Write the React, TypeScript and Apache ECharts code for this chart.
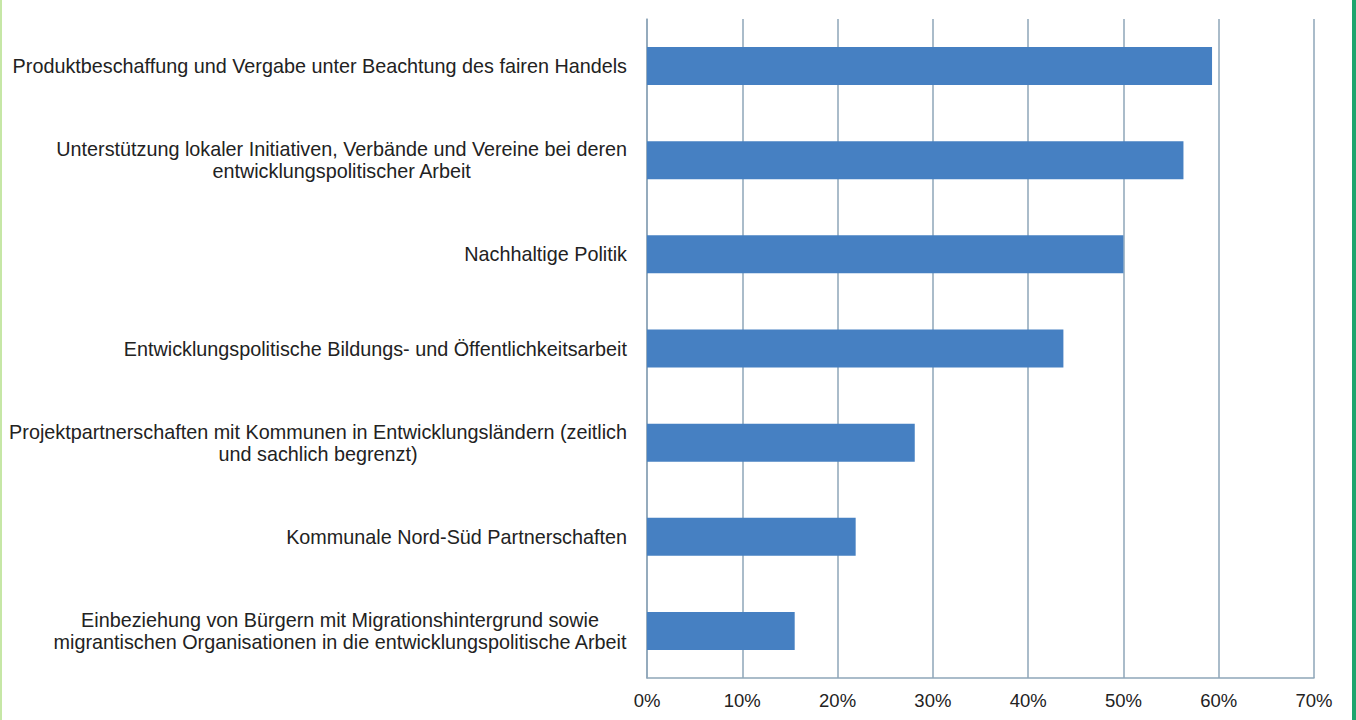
import React, { useEffect, useRef } from "react";
import * as echarts from "echarts";

const categories: string[][] = [
  ["Produktbeschaffung und Vergabe unter Beachtung des fairen Handels"],
  ["Unterstützung lokaler Initiativen, Verbände und Vereine bei deren", "entwicklungspolitischer Arbeit"],
  ["Nachhaltige Politik"],
  ["Entwicklungspolitische Bildungs- und Öffentlichkeitsarbeit"],
  ["Projektpartnerschaften mit Kommunen in Entwicklungsländern (zeitlich", "und sachlich begrenzt)"],
  ["Kommunale Nord-Süd Partnerschaften"],
  ["Einbeziehung von Bürgern mit Migrationshintergrund sowie", "migrantischen Organisationen in die entwicklungspolitische Arbeit"],
];
const values: number[] = [59.3, 56.3, 50.0, 43.7, 28.1, 21.9, 15.5];
const xTicks = { min: 0, max: 70, interval: 10 };

export default function App() {
  const ref = useRef<HTMLDivElement>(null);
  useEffect(() => {
    if (!ref.current) return;
    const chart = echarts.init(ref.current, null, { renderer: "svg" });
    const gridColor = "#8ea6b8";
    const font = "Liberation Sans, Arial, sans-serif";
    chart.setOption({
      animation: false,
      backgroundColor: "#ffffff",
      textStyle: { fontFamily: font },
      grid: { left: 647, right: 42, top: 19, bottom: 42 },
      xAxis: {
        type: "value",
        min: xTicks.min,
        max: xTicks.max,
        interval: xTicks.interval,
        axisLine: { show: true, lineStyle: { color: gridColor, width: 1.5 } },
        axisTick: { show: false },
        splitLine: { show: true, lineStyle: { color: gridColor, width: 1.5 } },
        axisLabel: {
          formatter: "{value}%",
          color: "#222222",
          fontSize: 18.5,
          margin: 13,
          fontFamily: font,
        },
      },
      yAxis: {
        type: "category",
        inverse: true,
        data: categories.map((c) => c.join("\n")),
        axisLine: { show: true, lineStyle: { color: gridColor, width: 1.5 } },
        axisTick: { show: false },
        axisLabel: {
          margin: 20,
          color: "#222222",
          fontSize: 19.8,
          fontFamily: font,
          formatter: (v: string) => v.split("\n").map((l) => "{c|" + l + "}").join("\n"),
          rich: {
            c: {
              align: "center",
              fontSize: 19.8,
              lineHeight: 22,
              color: "#222222",
              fontFamily: font,
            },
          },
        },
      },
      series: [
        {
          type: "bar",
          data: values,
          barWidth: 38,
          itemStyle: { color: "#4680c2" },
        },
      ],
      graphic: [
        { type: "rect", left: 0, top: 0, shape: { width: 2, height: 720 }, style: { fill: "#c6e7a6" } },
        { type: "rect", left: 1352, top: 0, shape: { width: 4, height: 720 }, style: { fill: "#1ea56e" } },
      ],
    });
    return () => chart.dispose();
  }, []);
  return (
    <div
      ref={ref}
      style={{ position: "fixed", left: 0, top: 0, width: 1356, height: 720 }}
    />
  );
}
